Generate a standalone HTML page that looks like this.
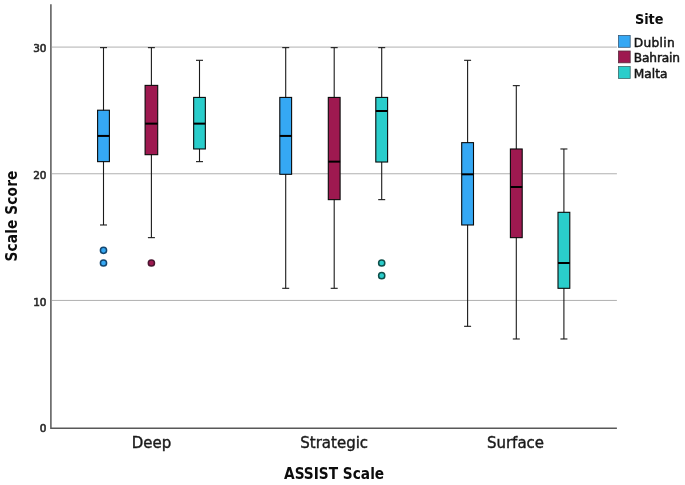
<!DOCTYPE html>
<html><head><meta charset="utf-8"><title>Boxplot</title>
<style>
html,body{margin:0;padding:0;background:#fff;}
svg{display:block;font-family:"DejaVu Sans","Liberation Sans",sans-serif;}
.w{stroke:#1a1a1a;stroke-width:1.1;}
.b{stroke:#0a0a0a;stroke-width:1.1;}
.m{stroke:#000;stroke-width:2;}
.o{stroke-width:1.5;}
.g{stroke:#b0b0b0;stroke-width:1;}
.ax{stroke:#585858;stroke-width:1.5;fill:none;}
.t{font-size:10.5px;fill:#2a2a2a;stroke:#2a2a2a;stroke-width:0.6px;}
.c{font-size:15px;fill:#1a1a1a;stroke:#1a1a1a;stroke-width:0.4px;}
.h{font-family:"DejaVu Sans Condensed","DejaVu Sans","Liberation Sans",sans-serif;font-size:15.25px;font-weight:bold;fill:#0c0c0c;}
.l{font-size:12.2px;fill:#161616;stroke:#161616;stroke-width:0.5px;}
</style></head><body>
<svg width="685" height="485" viewBox="0 0 685 485">
<rect width="685" height="485" fill="#fff"/>
<line x1="52" y1="300.43" x2="616.9" y2="300.43" class="g"/>
<line x1="52" y1="173.76" x2="616.9" y2="173.76" class="g"/>
<line x1="52" y1="47.09" x2="616.9" y2="47.09" class="g"/>
<line x1="103.5" y1="47.64" x2="103.5" y2="224.98" class="w"/>
<line x1="100.0" y1="47.64" x2="107.0" y2="47.64" class="w"/>
<line x1="100.0" y1="224.98" x2="107.0" y2="224.98" class="w"/>
<rect x="97.60" y="110.21" width="11.8" height="51.43" fill="#35A8F4" class="b"/>
<line x1="97.60" y1="135.93" x2="109.40" y2="135.93" class="m"/>
<circle cx="103.5" cy="262.98" r="3.1" fill="#35A8F4" stroke="#14466f" class="o"/>
<circle cx="103.5" cy="250.31" r="3.1" fill="#35A8F4" stroke="#14466f" class="o"/>
<line x1="151.4" y1="47.64" x2="151.4" y2="237.65" class="w"/>
<line x1="147.9" y1="47.64" x2="154.9" y2="47.64" class="w"/>
<line x1="147.9" y1="237.65" x2="154.9" y2="237.65" class="w"/>
<rect x="145.10" y="85.39" width="12.6" height="69.29" fill="#9E1950" class="b"/>
<line x1="145.10" y1="123.64" x2="157.70" y2="123.64" class="m"/>
<circle cx="151.4" cy="262.98" r="3.1" fill="#9E1950" stroke="#4a1530" class="o"/>
<line x1="199.5" y1="60.31" x2="199.5" y2="161.64" class="w"/>
<line x1="196.0" y1="60.31" x2="203.0" y2="60.31" class="w"/>
<line x1="196.0" y1="161.64" x2="203.0" y2="161.64" class="w"/>
<rect x="193.65" y="97.42" width="11.7" height="51.55" fill="#2ACDCB" class="b"/>
<line x1="193.65" y1="123.64" x2="205.35" y2="123.64" class="m"/>
<line x1="285.7" y1="47.64" x2="285.7" y2="288.31" class="w"/>
<line x1="282.2" y1="47.64" x2="289.2" y2="47.64" class="w"/>
<line x1="282.2" y1="288.31" x2="289.2" y2="288.31" class="w"/>
<rect x="279.80" y="97.42" width="11.8" height="76.89" fill="#35A8F4" class="b"/>
<line x1="279.80" y1="135.93" x2="291.60" y2="135.93" class="m"/>
<line x1="334.2" y1="47.64" x2="334.2" y2="288.31" class="w"/>
<line x1="330.7" y1="47.64" x2="337.7" y2="47.64" class="w"/>
<line x1="330.7" y1="288.31" x2="337.7" y2="288.31" class="w"/>
<rect x="328.30" y="97.42" width="11.8" height="102.22" fill="#9E1950" class="b"/>
<line x1="328.30" y1="161.64" x2="340.10" y2="161.64" class="m"/>
<line x1="381.7" y1="47.64" x2="381.7" y2="199.64" class="w"/>
<line x1="378.2" y1="47.64" x2="385.2" y2="47.64" class="w"/>
<line x1="378.2" y1="199.64" x2="385.2" y2="199.64" class="w"/>
<rect x="375.80" y="97.42" width="11.8" height="64.60" fill="#2ACDCB" class="b"/>
<line x1="375.80" y1="110.98" x2="387.60" y2="110.98" class="m"/>
<circle cx="381.7" cy="275.65" r="3.1" fill="#2ACDCB" stroke="#0f4f4a" class="o"/>
<circle cx="381.7" cy="262.98" r="3.1" fill="#2ACDCB" stroke="#0f4f4a" class="o"/>
<line x1="467.6" y1="60.31" x2="467.6" y2="326.31" class="w"/>
<line x1="464.1" y1="60.31" x2="471.1" y2="60.31" class="w"/>
<line x1="464.1" y1="326.31" x2="471.1" y2="326.31" class="w"/>
<rect x="461.70" y="142.64" width="11.8" height="82.34" fill="#35A8F4" class="b"/>
<line x1="461.70" y1="174.31" x2="473.50" y2="174.31" class="m"/>
<line x1="516.3" y1="85.64" x2="516.3" y2="338.98" class="w"/>
<line x1="512.8" y1="85.64" x2="519.8" y2="85.64" class="w"/>
<line x1="512.8" y1="338.98" x2="519.8" y2="338.98" class="w"/>
<rect x="510.40" y="148.98" width="11.8" height="88.67" fill="#9E1950" class="b"/>
<line x1="510.40" y1="186.98" x2="522.20" y2="186.98" class="m"/>
<line x1="563.9" y1="148.98" x2="563.9" y2="338.98" class="w"/>
<line x1="560.4" y1="148.98" x2="567.4" y2="148.98" class="w"/>
<line x1="560.4" y1="338.98" x2="567.4" y2="338.98" class="w"/>
<rect x="558.00" y="212.31" width="11.8" height="76.00" fill="#2ACDCB" class="b"/>
<line x1="558.00" y1="262.98" x2="569.80" y2="262.98" class="m"/>
<path d="M50.9 4.3V428.2H616.9" class="ax"/>
<text x="46.5" y="432.30" class="t" text-anchor="end">0</text>
<text x="46.5" y="305.63" class="t" text-anchor="end">10</text>
<text x="46.5" y="178.96" class="t" text-anchor="end">20</text>
<text x="46.5" y="52.29" class="t" text-anchor="end">30</text>
<text x="151.4" y="448.3" class="c" text-anchor="middle">Deep</text>
<text x="334.2" y="448.3" class="c" text-anchor="middle">Strategic</text>
<text x="515.5" y="448.3" class="c" text-anchor="middle">Surface</text>
<text x="334.1" y="479.1" class="h" text-anchor="middle">ASSIST Scale</text>
<text transform="translate(16.6 216) rotate(-90)" class="h" text-anchor="middle" letter-spacing="0.12">Scale Score</text>
<text x="649.2" y="24.2" class="h" text-anchor="middle" style="font-size:14.3px">Site</text>
<rect x="618.4" y="35.4" width="11.8" height="11.9" fill="#35A8F4" stroke="#3a5a78" stroke-width="0.8"/>
<rect x="618.4" y="51.0" width="11.8" height="11.8" fill="#9E1950" stroke="#5a2a3c" stroke-width="0.8"/>
<rect x="618.4" y="66.5" width="11.8" height="11.9" fill="#2ACDCB" stroke="#3a6a6a" stroke-width="0.8"/>
<text x="633.8" y="46.9" class="l" letter-spacing="0.3">Dublin</text>
<text x="633.8" y="62.1" class="l" letter-spacing="-0.15">Bahrain</text>
<text x="633.8" y="77.7" class="l">Malta</text>
</svg>
</body></html>
